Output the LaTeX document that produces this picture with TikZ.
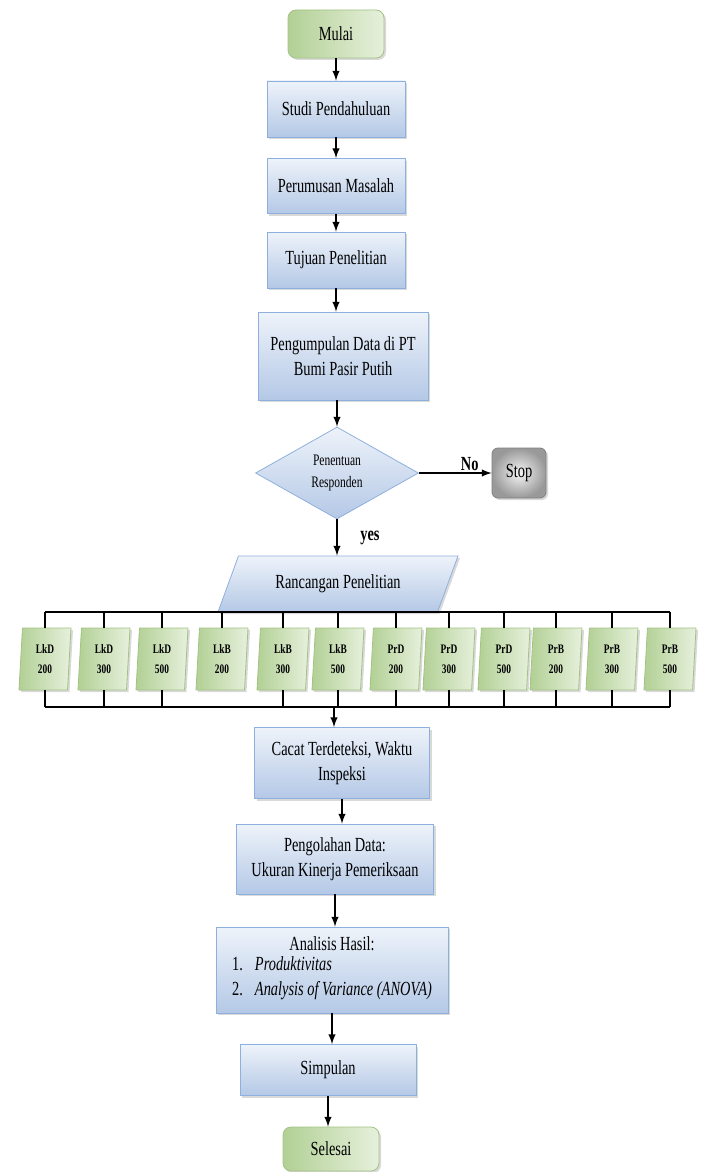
\documentclass[tikz,border=0pt]{standalone}
\usepackage{fontspec}
\setmainfont{Liberation Serif}[FakeStretch=0.72]
\usepackage{xcolor}
\usetikzlibrary{arrows,shapes.geometric,shadows}
\definecolor{boxtop}{HTML}{EEF3FA}
\definecolor{boxbot}{HTML}{B4C8E6}
\definecolor{boxline}{HTML}{8EB0DE}
\definecolor{greenL}{HTML}{B2D095}
\definecolor{greenR}{HTML}{E6F0DC}
\definecolor{greenline}{HTML}{A3C283}

\begin{document}
\begin{tikzpicture}[x=0.5pt,y=-0.5pt]
\tikzset{every node/.style={font=\fontsize{10}{12.5}\selectfont}}
\tikzset{shade/.style={drop shadow={shadow xshift=1pt,shadow yshift=-1pt,opacity=0.3}}}
\tikzset{process/.style={rectangle,draw=boxline,top color=boxtop,bottom color=boxbot,align=center,inner sep=2pt,shade}}
\tikzset{terminal/.style={rectangle,rounded corners=4pt,draw=greenline,left color=greenL,right color=greenR,minimum width=48pt,shade}}
\tikzset{decision/.style={diamond,draw=boxline,top color=boxtop,bottom color=boxbot,align=center,inner sep=0pt,minimum width=81.5pt,minimum height=46pt,font=\fontsize{8}{11}\selectfont}}
\tikzset{inout/.style={trapezium,trapezium left angle=57,trapezium right angle=123,trapezium stretches body,draw=boxline,top color=boxtop,bottom color=boxbot,minimum width=120pt,minimum height=28pt,shade}}
\tikzset{variant/.style={trapezium,trapezium left angle=84,trapezium right angle=96,trapezium stretches body,draw=greenline,left color=greenL,right color=greenR,minimum width=26pt,minimum height=31pt,align=center,inner sep=1pt,font=\fontsize{6.5}{10}\selectfont\bfseries,shade}}
\tikzset{halt/.style={rectangle,rounded corners=3pt,draw=gray,inner color=gray!8,outer color=gray!80,minimum width=27pt,minimum height=25pt,shade}}
\tikzset{arr/.style={->,>=latex,line width=0.7pt}}
\tikzset{bus/.style={line width=0.7pt}}

\useasboundingbox (0,0) rectangle (704,1172);

\node[terminal,minimum height=24pt] (mulai) at (336,34) {Mulai};
\node[process,minimum width=69pt,minimum height=28pt] (studi) at (336,109) {Studi Pendahuluan};
\node[process,minimum width=69pt,minimum height=27.5pt] (rumus) at (336,186) {Perumusan Masalah};
\node[process,minimum width=69pt,minimum height=28pt] (tujuan) at (336,260) {Tujuan Penelitian};
\node[process,minimum width=85pt,minimum height=44pt] (kumpul) at (343,356) {Pengumpulan Data di PT\\Bumi Pasir Putih};
\node[decision] (respon) at (337,473) {Penentuan\\Responden};
\node[halt] (stop) at (519,473) {Stop};
\node[inout] (rancang) at (338,584) {Rancangan Penelitian};

\foreach \x/\g/\n [count=\i] in {45/LkD/200,104/LkD/300,162/LkD/500,222/LkB/200,283/LkB/300,338/LkB/500,396/PrD/200,449/PrD/300,504/PrD/500,556/PrB/200,612/PrB/300,670/PrB/500}
  \node[variant] (v\i) at (\x,659) {\g\\\n};

\node[process,minimum width=87.5pt,minimum height=35.5pt] (cacat) at (342,763) {Cacat Terdeteksi, Waktu\\Inspeksi};
\node[process,minimum width=98.5pt,minimum height=35pt] (olah) at (335,859) {Pengolahan Data:\\Ukuran Kinerja Pemeriksaan};
\node[process,minimum width=116pt,minimum height=43pt] (analisis) at (332,970) {Analisis Hasil:\\\begin{tabular}{@{}l@{\hspace{6pt}}l@{}}1. & \textit{Produktivitas}\\2. & \textit{Analysis of Variance (ANOVA)}\end{tabular}};
\node[process,minimum width=88pt,minimum height=25.5pt] (simpul) at (328,1070) {Simpulan};
\node[terminal,minimum height=22pt] (selesai) at (331,1149) {Selesai};

\coordinate (bustop) at (338,612);
\coordinate (busbot) at (334,707);

\draw[arr] (mulai) -- (studi);
\draw[arr] (studi) -- (rumus);
\draw[arr] (rumus) -- (tujuan);
\draw[arr] (tujuan) -- (tujuan |- kumpul.north);
\draw[arr] (respon |- kumpul.south) -- (respon);
\draw[arr] (respon) -- (stop) node[pos=0.7,above,inner sep=1pt,font=\fontsize{10}{12}\selectfont\bfseries] {No};
\draw[arr] (respon) -- (respon |- rancang.north) node[midway,right=8pt,font=\fontsize{10}{12}\selectfont\bfseries] {yes};
\draw[bus] (rancang) -- (bustop);
\draw[bus] (v1.north |- bustop) -- (v12.north |- bustop);
\draw[bus] (v1.south |- busbot) -- (v12.south |- busbot);
\foreach \i in {1,...,12}
  \draw[bus] (v\i.north) -- (v\i.north |- bustop);
\foreach \i in {1,2,3,5,6,7,8,9,10,11,12}
  \draw[bus] (v\i.south) -- (v\i.south |- busbot);
\draw[arr] (busbot) -- (busbot |- cacat.north);
\draw[arr] (cacat) -- (cacat |- olah.north);
\draw[arr] (olah) -- (olah |- analisis.north);
\draw[arr] (analisis) -- (analisis |- simpul.north);
\draw[arr] (simpul) -- (simpul |- selesai.north);

\end{tikzpicture}
\end{document}
